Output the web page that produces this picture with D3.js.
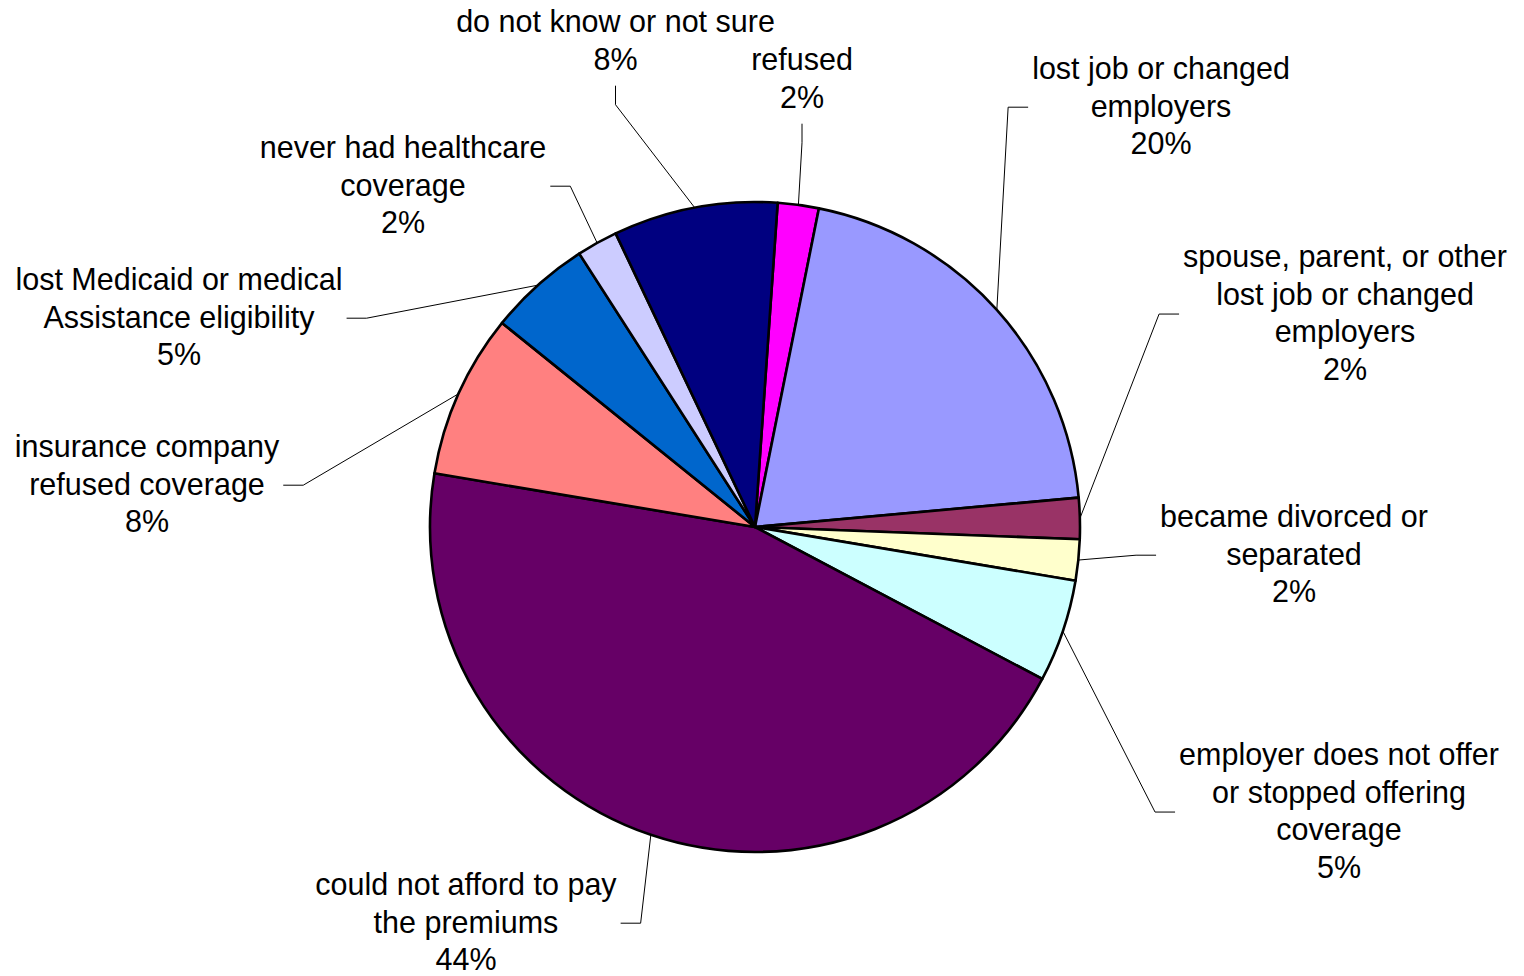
<!DOCTYPE html>
<html>
<head>
<meta charset="utf-8">
<script src="https://cdn.jsdelivr.net/npm/d3@7"></script>
<style>
  html, body { margin: 0; padding: 0; background: #fff; }
  svg { display: block; }
  text { font-family: "Liberation Sans", Arial, sans-serif; fill: #000; }
</style>
</head>
<body>
<svg id="chart" width="1524" height="976"></svg>
<script>
// Reasons for losing healthcare coverage (percent of respondents)
const categories = [
  "refused",
  "lost job or changed employers",
  "spouse, parent, or other lost job or changed employers",
  "became divorced or separated",
  "employer does not offer or stopped offering coverage",
  "could not afford to pay the premiums",
  "insurance company refused coverage",
  "lost Medicaid or medical Assistance eligibility",
  "never had healthcare coverage",
  "do not know or not sure"
];
const values = [2, 20, 2, 2, 5, 44, 8, 5, 2, 8];
const labelLines = [
  ["refused"],
  ["lost job or changed", "employers"],
  ["spouse, parent, or other", "lost job or changed", "employers"],
  ["became divorced or", "separated"],
  ["employer does not offer", "or stopped offering", "coverage"],
  ["could not afford to pay", "the premiums"],
  ["insurance company", "refused coverage"],
  ["lost Medicaid or medical", "Assistance eligibility"],
  ["never had healthcare", "coverage"],
  ["do not know or not sure"]
];
const colors = ["#FF00FF", "#9999FF", "#993366", "#FFFFCC", "#CCFFFF",
                "#660066", "#FF8080", "#0066CC", "#CCCCFF", "#000080"];

// Label placement: text block centre x, first baseline y, side the leader attaches to
const labelLayout = [
  [802, 70, "bottom"],
  [1161, 79, "left"],
  [1345, 267, "left"],
  [1294, 527, "left"],
  [1339, 765, "left"],
  [466, 895, "right"],
  [147, 457, "right"],
  [179, 290, "right"],
  [403, 158, "right"],
  [615.5, 32, "bottom"]
];

const W = 1524, H = 976;
const cx = 755, cy = 527, R = 325;
const fontSize = 30.5, lineH = 37.7;
const rot = 4 * Math.PI / 180;

const svg = d3.select("#chart");
svg.append("rect").attr("width", W).attr("height", H).attr("fill", "#fff");

const pie = d3.pie().sort(null).value(d => d)
  .startAngle(rot).endAngle(rot + 2 * Math.PI);
const arcs = pie(values);
const arc = d3.arc().innerRadius(0).outerRadius(R);

const g = svg.append("g").attr("transform", `translate(${cx},${cy})`);
g.selectAll("path.slice")
  .data(arcs)
  .join("path")
  .attr("class", "slice")
  .attr("d", arc)
  .attr("fill", (d, i) => colors[i])
  .attr("stroke", "#000")
  .attr("stroke-width", 2.6)
  .attr("stroke-linejoin", "round");

// Labels with elbow leader lines
const labels = svg.append("g");
const leaders = svg.append("g");

arcs.forEach((a, i) => {
  const [lx, by, side] = labelLayout[i];
  const lines = labelLines[i].concat([values[i] + "%"]);
  const t = labels.append("text")
    .attr("text-anchor", "middle")
    .attr("font-size", fontSize);
  lines.forEach((s, k) => {
    t.append("tspan").attr("x", lx).attr("y", by + k * lineH).text(s);
  });
  // widest line gives the box edges
  let maxW = 0;
  t.selectAll("tspan").each(function () {
    maxW = Math.max(maxW, this.getComputedTextLength());
  });
  const midY = by - 9.5 + (lines.length - 1) * lineH / 2;
  const bottom = by + (lines.length - 1) * lineH + 16;

  const mid = (a.startAngle + a.endAngle) / 2;
  const p0 = [cx + R * Math.sin(mid), cy - R * Math.cos(mid)];
  let end, elbow;
  if (side === "left") {
    end = [lx - maxW / 2 - 4, midY];
    elbow = [end[0] - 20, midY];
  } else if (side === "right") {
    end = [lx + maxW / 2 + 4, midY];
    elbow = [end[0] + 20, midY];
  } else {
    end = [lx, bottom];
    elbow = [lx, bottom + 19];
  }
  leaders.append("path")
    .attr("d", d3.line()([p0, elbow, end]))
    .attr("fill", "none")
    .attr("stroke", "#000")
    .attr("stroke-width", 1);
});
</script>
</body>
</html>
